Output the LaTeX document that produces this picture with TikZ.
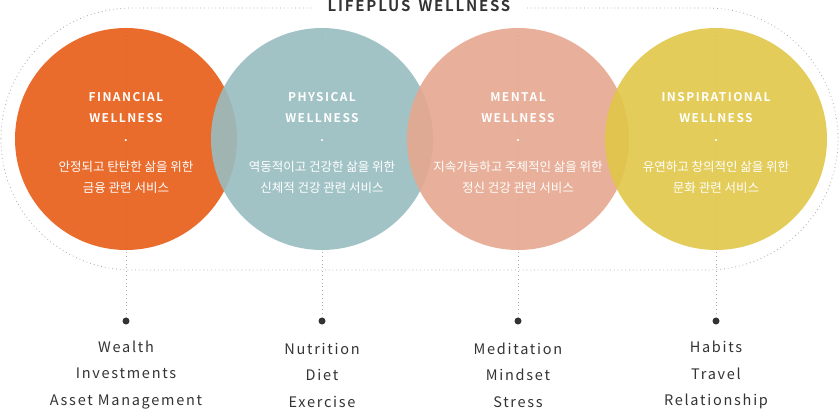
\documentclass[tikz,border=0pt]{standalone}
\usepackage{fontspec}
\usepackage{xcolor}
\setmainfont{Noto Sans CJK KR}
\newfontfamily\headfont[LetterSpace=12]{Noto Sans CJK KR Bold}
\newfontfamily\itemfont[LetterSpace=12]{Noto Sans CJK KR}
\definecolor{finorange}{HTML}{E75C16}
\definecolor{phyteal}{HTML}{98BDC0}
\definecolor{mensalmon}{HTML}{E5A78F}
\definecolor{insyellow}{HTML}{E0C748}
\definecolor{textgray}{HTML}{333333}
\definecolor{linegray}{HTML}{AAAAAA}

\tikzset{
  dotline/.style={linegray, line width=0.8pt, dash pattern=on 0.8pt off 3pt},
  bubble/.style={circle, minimum size=222pt, inner sep=0pt, fill opacity=0.9},
  head/.style={text=white, align=center, font=\headfont\fontsize{12}{21}\selectfont},
  desc/.style={text=white, align=center, font=\fontsize{12.5}{21}\selectfont},
  items/.style={text=textgray, align=center, font=\itemfont\fontsize{14.5}{26.5}\selectfont},
}

\begin{document}
\begin{tikzpicture}[x=1pt,y=-1pt]
\useasboundingbox (0,0) rectangle (840,410);
% outer frame
\draw[dotline, rounded corners=130.9pt] (1,8) rectangle (838,270);
\node[fill=white, inner xsep=14pt, inner ysep=1pt, text=textgray,
  font=\headfont\fontsize{15}{16}\selectfont] (title) at (419,6) {LIFEPLUS\hspace{3pt} WELLNESS};
% the four areas
\foreach \i/\x/\col/\hd/\kr/\en in {
  1/126/finorange/{FINANCIAL\\WELLNESS}/{안정되고 탄탄한 삶을 위한\\금융 관련 서비스}/{Wealth\\Investments\\Asset Management},
  2/322/phyteal/{PHYSICAL\\WELLNESS}/{역동적이고 건강한 삶을 위한\\신체적 건강 관련 서비스}/{Nutrition\\Diet\\Exercise},
  3/518/mensalmon/{MENTAL\\WELLNESS}/{지속가능하고 주체적인 삶을 위한\\정신 건강 관련 서비스}/{Meditation\\Mindset\\Stress},
  4/716/insyellow/{INSPIRATIONAL\\WELLNESS}/{유연하고 창의적인 삶을 위한\\문화 관련 서비스}/{Habits\\Travel\\Relationship}} {
  \node[circle, fill=textgray, minimum size=7pt, inner sep=0pt] (d\i) at (\x,321) {};
  \coordinate (t\i) at (\x,28);
  \draw[dotline] (t\i) -- (d\i);
  \node[bubble, fill=\col] (c\i) at (\x,139) {};
  \node[head] (h\i) at (\x,107.5) {\hd};
  \node[text=white, font=\bfseries\fontsize{10}{10}\selectfont] (m\i) at (\x,141) {.};
  \node[desc] (k\i) at (\x,177) {\kr};
  \node[items] (e\i) at (\x,375) {\en};
}
\end{tikzpicture}
\end{document}
